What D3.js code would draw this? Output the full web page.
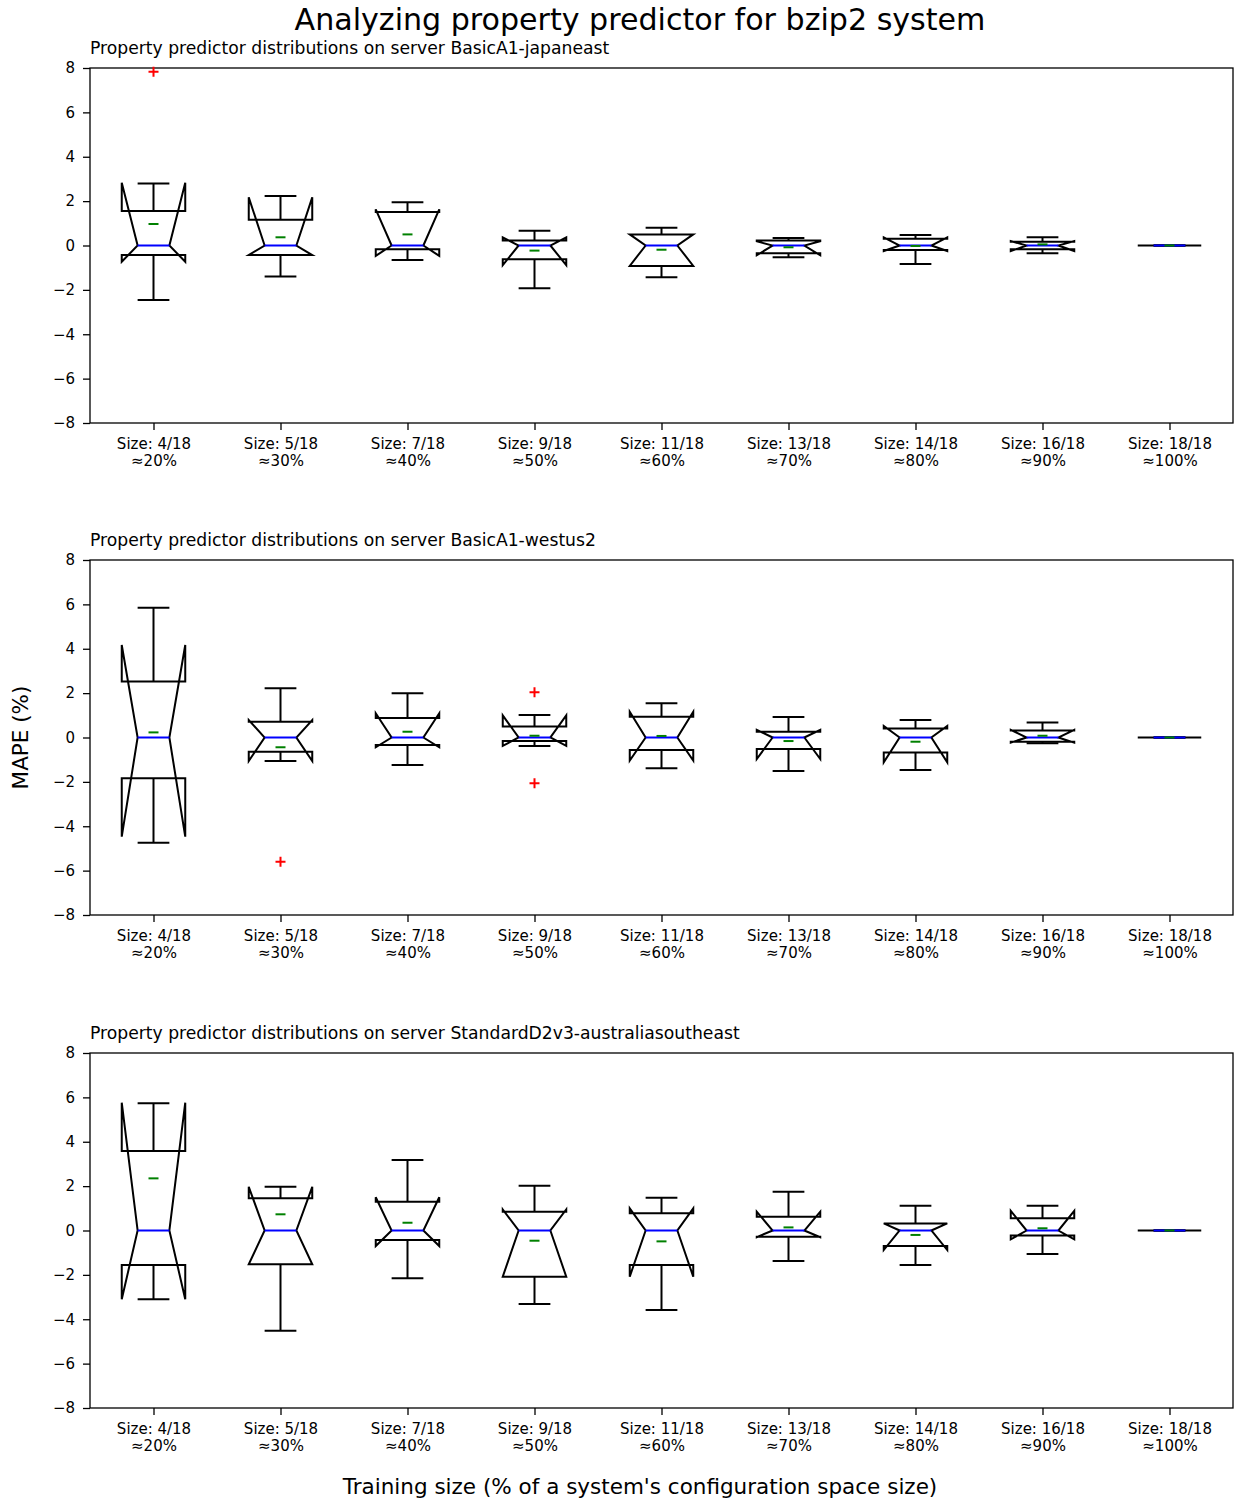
<!DOCTYPE html>
<html>
<head>
<meta charset="utf-8">
<script src="https://cdn.jsdelivr.net/npm/d3@7"></script>
<style>
  body { margin: 0; background: #fff; }
  svg text { font-family: "DejaVu Sans", sans-serif; fill: #000; }
</style>
</head>
<body>
<svg id="chart" width="1235" height="1498"></svg>
<script>
// Training sizes (configurations out of 18) and their approximate share
const sizes = [4, 5, 7, 9, 11, 13, 14, 16, 18];
const shares = [20, 30, 40, 50, 60, 70, 80, 90, 100];
const servers = ["BasicA1-japaneast", "BasicA1-westus2", "StandardD2v3-australiasoutheast"];
const yTicks = [-8, -6, -4, -2, 0, 2, 4, 6, 8];

// Box statistics per server (rows) and training size (columns), MAPE in %
const whiskerHi = [
  [2.80, 2.23, 1.95, 0.67, 0.80, 0.34, 0.47, 0.37, 0],
  [5.85, 2.22, 1.99, 1.01, 1.54, 0.92, 0.79, 0.68, 0],
  [5.73, 1.97, 3.18, 2.02, 1.48, 1.75, 1.12, 1.12, 0]
];
const notchHi = [
  [2.83, 2.17, 1.63, 0.37, 0.50, 0.19, 0.37, 0.20, 0],
  [4.17, 0.79, 1.09, 1.00, 1.16, 0.34, 0.52, 0.34, 0],
  [5.76, 1.97, 1.50, 0.95, 1.00, 0.85, 0.32, 0.89, 0]
];
const q3 = [
  [1.55, 1.16, 1.51, 0.22, 0.50, 0.22, 0.30, 0.17, 0],
  [2.52, 0.71, 0.88, 0.50, 0.94, 0.26, 0.41, 0.31, 0],
  [3.58, 1.45, 1.30, 0.85, 0.78, 0.62, 0.32, 0.55, 0]
];
const median = [
  [0, 0, 0, 0, 0, 0, 0, 0, 0],
  [0, 0, 0, 0, 0, 0, 0, 0, 0],
  [0, 0, 0, 0, 0, 0, 0, 0, 0]
];
const mean = [
  [0.97, 0.37, 0.50, -0.23, -0.19, -0.08, -0.02, 0.05, 0],
  [0.23, -0.44, 0.26, 0.08, 0.07, -0.16, -0.19, 0.08, 0],
  [2.35, 0.73, 0.35, -0.46, -0.49, 0.14, -0.20, 0.10, 0]
];
const q1 = [
  [-0.43, -0.43, -0.17, -0.62, -0.92, -0.35, -0.20, -0.17, 0],
  [-1.84, -0.64, -0.34, -0.16, -0.56, -0.52, -0.68, -0.19, 0],
  [-1.55, -1.52, -0.43, -2.08, -1.55, -0.28, -0.70, -0.23, 0]
];
const notchLo = [
  [-0.73, -0.43, -0.47, -0.89, -0.92, -0.44, -0.25, -0.25, 0],
  [-4.47, -1.06, -0.44, -0.38, -1.04, -0.97, -1.12, -0.23, 0],
  [-3.10, -1.52, -0.70, -2.08, -2.08, -0.30, -0.88, -0.40, 0]
];
const whiskerLo = [
  [-2.46, -1.40, -0.65, -1.93, -1.43, -0.53, -0.83, -0.35, 0],
  [-4.74, -1.06, -1.24, -0.38, -1.39, -1.51, -1.46, -0.26, 0],
  [-3.10, -4.52, -2.15, -3.31, -3.58, -1.37, -1.55, -1.06, 0]
];
const fliers = [
  [[7.83], [], [], [], [], [], [], [], []],
  [[], [-5.6], [], [2.04, -2.06], [], [], [], [], []],
  [[], [], [], [], [], [], [], [], []]
];

const svg = d3.select("#chart");
const left = 90, right = 1233;
const panelTops = [68, 560, 1053];
const panelH = 355;
const tickFont = 15;

const labels = sizes.map((s, i) => `Size: ${s}/18|≈${shares[i]}%`);
const x = d3.scalePoint().domain(labels).range([left, right]).padding(0.5);
const boxW = x.step() * 0.5;

svg.append("text")
  .attr("x", 640).attr("y", 30)
  .attr("text-anchor", "middle")
  .attr("font-size", 30.1)
  .text("Analyzing property predictor for bzip2 system");

servers.forEach((server, p) => {
  const top = panelTops[p];
  const y = d3.scaleLinear().domain([-8, 8]).range([top + panelH, top]);
  const g = svg.append("g");

  g.append("text")
    .attr("x", left).attr("y", top - 14)
    .attr("font-size", 17.2)
    .text(`Property predictor distributions on server ${server}`);

  // y axis
  const yAxis = d3.axisLeft(y).tickValues(yTicks).tickSize(7).tickPadding(8)
    .tickFormat(d => d < 0 ? "\u2212" + Math.abs(d) : String(d));
  const ya = g.append("g").attr("transform", `translate(${left},0)`).call(yAxis);
  ya.attr("font-size", tickFont).attr("font-family", "DejaVu Sans");
  ya.select(".domain").remove();
  ya.selectAll("text").attr("font-size", tickFont).attr("fill", "#000");
  ya.selectAll("line").attr("stroke", "#000").attr("stroke-width", 1.3);

  // x axis with two-line labels
  const xAxis = d3.axisBottom(x).tickSize(7).tickPadding(5).tickFormat("");
  const xa = g.append("g").attr("transform", `translate(0,${top + panelH})`).call(xAxis);
  xa.attr("font-size", tickFont).attr("font-family", "DejaVu Sans");
  xa.select(".domain").remove();
  xa.selectAll("line").attr("stroke", "#000").attr("stroke-width", 1.3);
  xa.selectAll(".tick").each(function(d) {
    const parts = d.split("|");
    const t = d3.select(this).append("text")
      .attr("text-anchor", "middle")
      .attr("font-size", tickFont)
      .attr("fill", "#000");
    t.append("tspan").attr("x", 0).attr("y", 26).text(parts[0]);
    t.append("tspan").attr("x", 0).attr("y", 43).text(parts[1]);
  });

  // frame
  g.append("rect")
    .attr("x", left).attr("y", top)
    .attr("width", right - left).attr("height", panelH)
    .attr("fill", "none").attr("stroke", "#000").attr("stroke-width", 1.3);

  const rows = labels.map((lab, i) => ({
    cx: x(lab),
    wHi: whiskerHi[p][i], nHi: notchHi[p][i], q3: q3[p][i], med: median[p][i],
    mean: mean[p][i], q1: q1[p][i], nLo: notchLo[p][i], wLo: whiskerLo[p][i],
    fl: fliers[p][i]
  }));

  const boxes = g.append("g");
  rows.forEach(r => {
    const L = r.cx - boxW / 2, R = r.cx + boxW / 2;
    const cL = r.cx - boxW / 4, cR = r.cx + boxW / 4;
    // whiskers
    boxes.append("line").attr("x1", r.cx).attr("x2", r.cx)
      .attr("y1", y(r.q3)).attr("y2", y(r.wHi)).attr("stroke", "#000").attr("stroke-width", 2);
    boxes.append("line").attr("x1", r.cx).attr("x2", r.cx)
      .attr("y1", y(r.q1)).attr("y2", y(r.wLo)).attr("stroke", "#000").attr("stroke-width", 2);
    // caps
    [r.wHi, r.wLo].forEach(v => {
      boxes.append("line").attr("x1", cL).attr("x2", cR)
        .attr("y1", y(v)).attr("y2", y(v)).attr("stroke", "#000").attr("stroke-width", 2);
    });
    // notched box outline
    const pts = [
      [L, r.q1], [R, r.q1], [R, r.nLo], [cR, r.med], [R, r.nHi], [R, r.q3],
      [L, r.q3], [L, r.nHi], [cL, r.med], [L, r.nLo]
    ];
    boxes.append("path")
      .attr("d", d3.line().x(d => d[0]).y(d => y(d[1]))(pts) + "Z")
      .attr("fill", "none").attr("stroke", "#000").attr("stroke-width", 2)
      .attr("stroke-linejoin", "miter");
    // median
    boxes.append("line").attr("x1", cL).attr("x2", cR)
      .attr("y1", y(r.med)).attr("y2", y(r.med)).attr("stroke", "#0000ff").attr("stroke-width", 2);
    // outliers
    r.fl.forEach(v => {
      const yy = y(v);
      boxes.append("path")
        .attr("d", `M${r.cx - 5},${yy}H${r.cx + 5}M${r.cx},${yy - 5}V${yy + 5}`)
        .attr("stroke", "#ff0000").attr("stroke-width", 2).attr("fill", "none");
    });
    // mean
    boxes.append("line").attr("x1", r.cx - 5).attr("x2", r.cx + 5)
      .attr("y1", y(r.mean)).attr("y2", y(r.mean)).attr("stroke", "#008000").attr("stroke-width", 2);
  });
});

svg.append("text")
  .attr("transform", `translate(28,${panelTops[1] + panelH / 2}) rotate(-90)`)
  .attr("text-anchor", "middle")
  .attr("font-size", 21.5)
  .text("MAPE (%)");

svg.append("text")
  .attr("x", 640).attr("y", 1494)
  .attr("text-anchor", "middle")
  .attr("font-size", 21.5)
  .text("Training size (% of a system's configuration space size)");
</script>
</body>
</html>
